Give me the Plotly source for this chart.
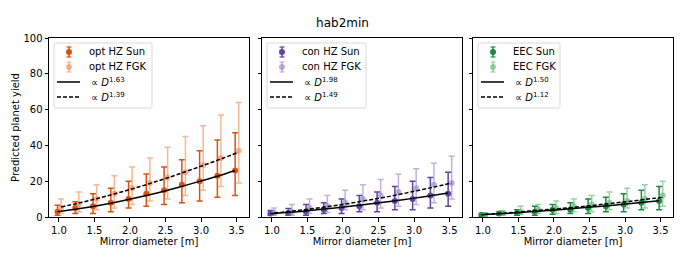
import plotly.graph_objects as go

D = [1.0, 1.25, 1.5, 1.75, 2.0, 2.25, 2.5, 2.75, 3.0, 3.25, 3.5]

# opt HZ
opt_sun = [3, 5, 6, 8, 10, 13, 15, 18, 20, 23, 26]
opt_sun_lo = [1, 2, 2, 3, 5, 6, 7, 8, 9, 11, 12]
opt_sun_hi = [6.5, 8.5, 13, 16, 20, 24, 28, 32, 37, 43, 47]
opt_fgk = [5, 7, 10, 13, 16, 19, 22, 25, 29, 33, 37]
opt_fgk_lo = [2, 3, 4, 5, 7, 9, 10, 12, 15, 17, 19]
opt_fgk_hi = [10, 14, 18, 23, 28, 33, 39, 45, 51, 57, 64]
opt_fit_sun = [2.9, 4.3, 5.9, 7.7, 9.8, 12.0, 14.4, 17.1, 19.9, 22.8, 26.0]
opt_fit_fgk = [5.6, 7.8, 10.2, 12.9, 15.7, 18.7, 21.9, 25.3, 28.8, 32.4, 36.2]

# con HZ
con_sun = [2, 2.2, 3, 4, 5, 6, 8, 9, 10, 12, 13]
con_sun_lo = [1, 1, 1, 2, 2, 3, 3, 4, 4, 5, 6]
con_sun_hi = [3.7, 4.7, 7, 8, 10, 12, 14, 17, 20, 22, 25]
con_fgk = [2.4, 3, 5, 6, 8, 10, 12, 14, 16, 18, 19]
con_fgk_lo = [1, 1, 2, 2.5, 4, 4, 5, 6, 7, 8, 10]
con_fgk_hi = [5, 7, 10, 12, 15, 18, 21, 24, 27, 30, 34]
con_fit_sun = [1.8, 2.6, 3.4, 4.4, 5.5, 6.6, 7.8, 9.1, 10.4, 11.9, 13.4]
con_fit_fgk = [2.2, 3.2, 4.4, 5.8, 7.2, 8.9, 10.6, 12.5, 14.6, 16.7, 19.0]

# EEC
eec_sun = [1.1, 2, 2.2, 3, 4, 4, 5, 6, 7, 8, 9]
eec_sun_lo = [0.5, 1, 1, 1, 1.5, 2, 2, 3, 3, 4, 4]
eec_sun_hi = [2, 3, 4, 6, 7, 8, 10, 11, 13, 15, 17]
eec_fgk = [1.1, 2.2, 3, 4, 5, 6, 7, 8, 9, 10, 12]
eec_fgk_lo = [0.5, 1, 1.5, 2, 2, 3, 3, 4, 5, 5, 6]
eec_fgk_hi = [2.4, 3.5, 6, 7, 9, 10, 12, 14, 16, 18, 20]
eec_fit_sun = [1.3, 1.8, 2.4, 3.1, 3.8, 4.6, 5.4, 6.2, 7.1, 8.1, 9.1]
eec_fit_fgk = [1.5, 2.1, 2.9, 3.7, 4.5, 5.4, 6.4, 7.5, 8.6, 9.8, 11.0]

x_ticks = [1.0, 1.5, 2.0, 2.5, 3.0, 3.5]
x_ticktext = ["1.0", "1.5", "2.0", "2.5", "3.0", "3.5"]
y_ticks = [0, 20, 40, 60, 80, 100]

panels = [
    dict(name="opt HZ", sun=opt_sun, sun_lo=opt_sun_lo, sun_hi=opt_sun_hi,
         fgk=opt_fgk, fgk_lo=opt_fgk_lo, fgk_hi=opt_fgk_hi,
         fit_sun=opt_fit_sun, fit_fgk=opt_fit_fgk, exp_sun="1.63", exp_fgk="1.39",
         c_sun="#d9530e", c_fgk="rgba(238,135,85,0.6)", legw=98),
    dict(name="con HZ", sun=con_sun, sun_lo=con_sun_lo, sun_hi=con_sun_hi,
         fgk=con_fgk, fgk_lo=con_fgk_lo, fgk_hi=con_fgk_hi,
         fit_sun=con_fit_sun, fit_fgk=con_fit_fgk, exp_sun="1.98", exp_fgk="1.49",
         c_sun="#5d45a0", c_fgk="rgba(145,128,198,0.6)", legw=99),
    dict(name="EEC", sun=eec_sun, sun_lo=eec_sun_lo, sun_hi=eec_sun_hi,
         fgk=eec_fgk, fgk_lo=eec_fgk_lo, fgk_hi=eec_fgk_hi,
         fit_sun=eec_fit_sun, fit_fgk=eec_fit_fgk, exp_sun="1.50", exp_fgk="1.12",
         c_sun="#1e8a44", c_fgk="rgba(85,180,115,0.6)", legw=82),
]

W, H = 685, 257
x_px = [(49, 249), (262, 462), (473, 673)]
Y_TOP, Y_BOT = 38, 217
y_dom = [1 - Y_BOT / H, 1 - Y_TOP / H]
FONT = "DejaVu Sans"
DASH = "4px,2px"


def px(x):
    return x / W


def py(y):
    return 1 - y / H


fig = go.Figure()
shapes = []
annotations = []

for i, p in enumerate(panels):
    sfx = "" if i == 0 else str(i + 1)
    xa, ya = "x" + sfx, "y" + sfx
    xs_sun = [d - 0.02 for d in D]
    xs_fgk = [d + 0.03 for d in D]
    fig.add_trace(go.Scatter(
        x=xs_sun, y=p["sun"], mode="markers", name=p["name"] + " Sun",
        marker=dict(color=p["c_sun"], size=6),
        error_y=dict(type="data", symmetric=False,
                     array=[h - v for h, v in zip(p["sun_hi"], p["sun"])],
                     arrayminus=[v - l for l, v in zip(p["sun_lo"], p["sun"])],
                     color=p["c_sun"], thickness=1.5, width=3),
        xaxis=xa, yaxis=ya, showlegend=False))
    fig.add_trace(go.Scatter(
        x=xs_fgk, y=p["fgk"], mode="markers", name=p["name"] + " FGK",
        marker=dict(color=p["c_fgk"], size=6),
        error_y=dict(type="data", symmetric=False,
                     array=[h - v for h, v in zip(p["fgk_hi"], p["fgk"])],
                     arrayminus=[v - l for l, v in zip(p["fgk_lo"], p["fgk"])],
                     color=p["c_fgk"], thickness=1.5, width=3),
        xaxis=xa, yaxis=ya, showlegend=False))
    fig.add_trace(go.Scatter(
        x=xs_sun, y=p["fit_sun"], mode="lines",
        line=dict(color="black", width=1.5, shape="spline"),
        name="∝ D^" + p["exp_sun"], xaxis=xa, yaxis=ya, showlegend=False))
    fig.add_trace(go.Scatter(
        x=xs_fgk, y=p["fit_fgk"], mode="lines",
        line=dict(color="black", width=1.5, dash=DASH, shape="spline"),
        name="∝ D^" + p["exp_fgk"], xaxis=xa, yaxis=ya, showlegend=False))

    ax = dict(domain=[px(x_px[i][0]), px(x_px[i][1])], range=[0.86, 3.675],
              tickvals=x_ticks, ticktext=x_ticktext,
              ticks="outside", ticklen=3.5, tickwidth=1, tickcolor="black",
              showline=True, linecolor="black", linewidth=1, mirror=True,
              showgrid=False, zeroline=False, anchor=ya, automargin=False,
              tickfont=dict(family=FONT, size=10, color="black"),
              title=dict(text="Mirror diameter [m]",
                         font=dict(family=FONT, size=10, color="black"), standoff=3))
    ay = dict(domain=y_dom, range=[0, 100], tickvals=y_ticks,
              ticks="outside", ticklen=3.5, tickwidth=1, tickcolor="black",
              showline=True, linecolor="black", linewidth=1, mirror=True,
              showgrid=False, zeroline=False, anchor=xa, automargin=False,
              showticklabels=(i == 0),
              tickfont=dict(family=FONT, size=10, color="black"))
    if i == 0:
        ay["title"] = dict(text="Predicted planet yield",
                           font=dict(family=FONT, size=10, color="black"), standoff=1)
    fig.update_layout(**{"xaxis" + sfx: ax, "yaxis" + sfx: ay})

    # legend box drawn in paper coordinates
    off = x_px[i][0] - 49
    bx0, bx1 = 54 + off, 54 + off + p["legw"]
    by0, by1 = 43, 108
    r = 2
    path = (f"M {px(bx0 + r)} {py(by0)} L {px(bx1 - r)} {py(by0)} "
            f"Q {px(bx1)} {py(by0)} {px(bx1)} {py(by0 + r)} "
            f"L {px(bx1)} {py(by1 - r)} Q {px(bx1)} {py(by1)} {px(bx1 - r)} {py(by1)} "
            f"L {px(bx0 + r)} {py(by1)} Q {px(bx0)} {py(by1)} {px(bx0)} {py(by1 - r)} "
            f"L {px(bx0)} {py(by0 + r)} Q {px(bx0)} {py(by0)} {px(bx0 + r)} {py(by0)} Z")
    shapes.append(dict(type="path", xref="paper", yref="paper", path=path,
                       line=dict(color="#d9d9d9", width=1), fillcolor="rgba(255,255,255,0.8)"))
    rows = [52, 67, 82, 97]
    mx = 69 + off
    for row, col in zip(rows[:2], [p["c_sun"], p["c_fgk"]]):
        shapes.append(dict(type="line", xref="paper", yref="paper",
                           x0=px(mx), x1=px(mx), y0=py(row - 5), y1=py(row + 5),
                           line=dict(color=col, width=1.5)))
        for cy in (row - 5, row + 5):
            shapes.append(dict(type="line", xref="paper", yref="paper",
                               x0=px(mx - 2.5), x1=px(mx + 2.5), y0=py(cy), y1=py(cy),
                               line=dict(color=col, width=1.2)))
        shapes.append(dict(type="circle", xref="paper", yref="paper",
                           x0=px(mx - 3), x1=px(mx + 3), y0=py(row - 3), y1=py(row + 3),
                           fillcolor=col, line=dict(width=0)))
    for row, dash in zip(rows[2:], ["solid", DASH]):
        shapes.append(dict(type="line", xref="paper", yref="paper",
                           x0=px(57 + off), x1=px(80 + off), y0=py(row), y1=py(row),
                           line=dict(color="black", width=1.5, dash=dash)))
    labels = [p["name"] + " Sun", p["name"] + " FGK",
              "∝ <i>D</i><sup>" + p["exp_sun"] + "</sup>",
              "∝ <i>D</i><sup>" + p["exp_fgk"] + "</sup>"]
    for row, lab, lx in zip(rows, labels, [87, 87, 89, 89]):
        annotations.append(dict(text=lab, xref="paper", yref="paper", x=px(lx + off), y=py(row),
                                xanchor="left", yanchor="middle", showarrow=False,
                                font=dict(family=FONT, size=10, color="black")))

fig.update_layout(
    width=W, height=H, margin=dict(l=0, r=0, t=0, b=0, pad=0),
    paper_bgcolor="white", plot_bgcolor="white",
    title=dict(text="hab2min", x=0.5, xanchor="center", y=py(23), yanchor="middle",
               font=dict(family=FONT, size=12, color="black")),
    showlegend=False, shapes=shapes, annotations=annotations,
)

fig.write_html("out.html", config={"displayModeBar": False},
               post_script="document.body.style.margin='0px';")
